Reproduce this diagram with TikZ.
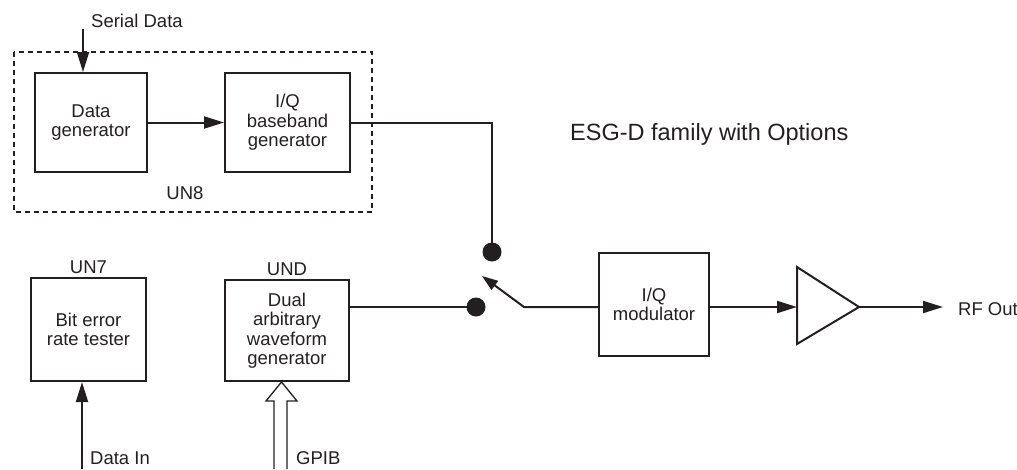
\documentclass[tikz,border=0pt]{standalone}
\usepackage{fontspec}
\setmainfont{Liberation Sans}
\usetikzlibrary{arrows.meta}
\definecolor{ink}{RGB}{35,31,32}
\tikzset{
  blk/.style={draw, line width=2pt, inner sep=0pt, align=center, font=\fontsize{18.5}{19.5}\selectfont},
  lbl/.style={inner sep=0pt, font=\fontsize{18.5}{19.5}\selectfont},
  conn/.style={line width=2pt, -{Triangle[length=20pt,width=12pt]}},
  wire/.style={line width=2pt},
  dot/.style={circle, fill, inner sep=0pt, minimum size=19pt},
}
\begin{document}
\begin{tikzpicture}[x=1pt,y=-1pt, color=ink]
\useasboundingbox (0,0) rectangle (1017,469);
% dashed UN8 box
\draw[line width=1.5pt, dash pattern=on 5pt off 4pt] (14,52) rectangle (372,212);
% blocks
\node[blk, minimum width=112pt, minimum height=99pt] (dg) at (91,122.5) {Data\\generator};
\node[blk, minimum width=125pt, minimum height=99pt] (iqb) at (287.5,122.5) {I/Q\\baseband\\generator};
\node[blk, minimum width=115pt, minimum height=103pt] (bert) at (88.5,329.5) {Bit error\\rate tester};
\node[blk, minimum width=124pt, minimum height=101pt] (arb) at (287,330.5) {Dual\\arbitrary\\waveform\\generator};
\node[blk, minimum width=110pt, minimum height=103pt] (mod) at (654,304.5) {I/Q\\modulator};
% labels
\node[lbl, anchor=base west] (sd) at (91,27) {Serial Data};
\node[lbl, anchor=base] (un8) at (185,199) {UN8};
\node[lbl, anchor=base] (un7) at (88.5,273) {UN7};
\node[lbl, anchor=base] (und) at (287,275) {UND};
\node[lbl, anchor=base west] (din) at (90,464) {Data In};
\node[lbl, anchor=base west] (gpib) at (296,464) {GPIB};
\node[lbl, anchor=base west] (rfo) at (958,315) {RF Out};
\node[inner sep=0pt, anchor=base west, font=\fontsize{23.5}{25}\selectfont] (title) at (570,140) {ESG-D family with Options};
% coordinates
\coordinate (sdtop) at (83,29);
\coordinate (dintail) at (82,469);
\coordinate (sw) at (524,307);
\coordinate (swtip) at (482,276);
\coordinate (ampin) at (797,307);
\coordinate (ampout) at (859,307);
\coordinate (rfend) at (943,307);
% dots
\node[dot] (d1) at (492,252) {};
\node[dot] (d2) at (476,307) {};
% connectors
\draw[conn] (sdtop) -- (sdtop |- dg.north);
\draw[conn] (dg.east) -- (iqb.west);
\draw[wire] (iqb.east) -| (d1.center);
\draw[wire] (arb.east |- d2) -- (d2.center);
\draw[line width=2pt, -{Triangle[length=16pt,width=11pt]}] (mod.west |- sw) -- (sw) -- (swtip);
\draw[conn] (mod.east |- ampin) -- (ampin);
\draw[line width=2pt, line join=miter] (797,267) -- (ampout) -- (797,344) -- cycle;
\draw[conn] (ampout) -- (rfend);
\draw[conn] (dintail) -- (dintail |- bert.south);
\draw[line width=1.3pt, fill=white, line join=miter] (274,469) -- (274,401) -- (266,401) -- (281.5,382) -- (297,401) -- (287,401) -- (287,469);
\end{tikzpicture}
\end{document}
